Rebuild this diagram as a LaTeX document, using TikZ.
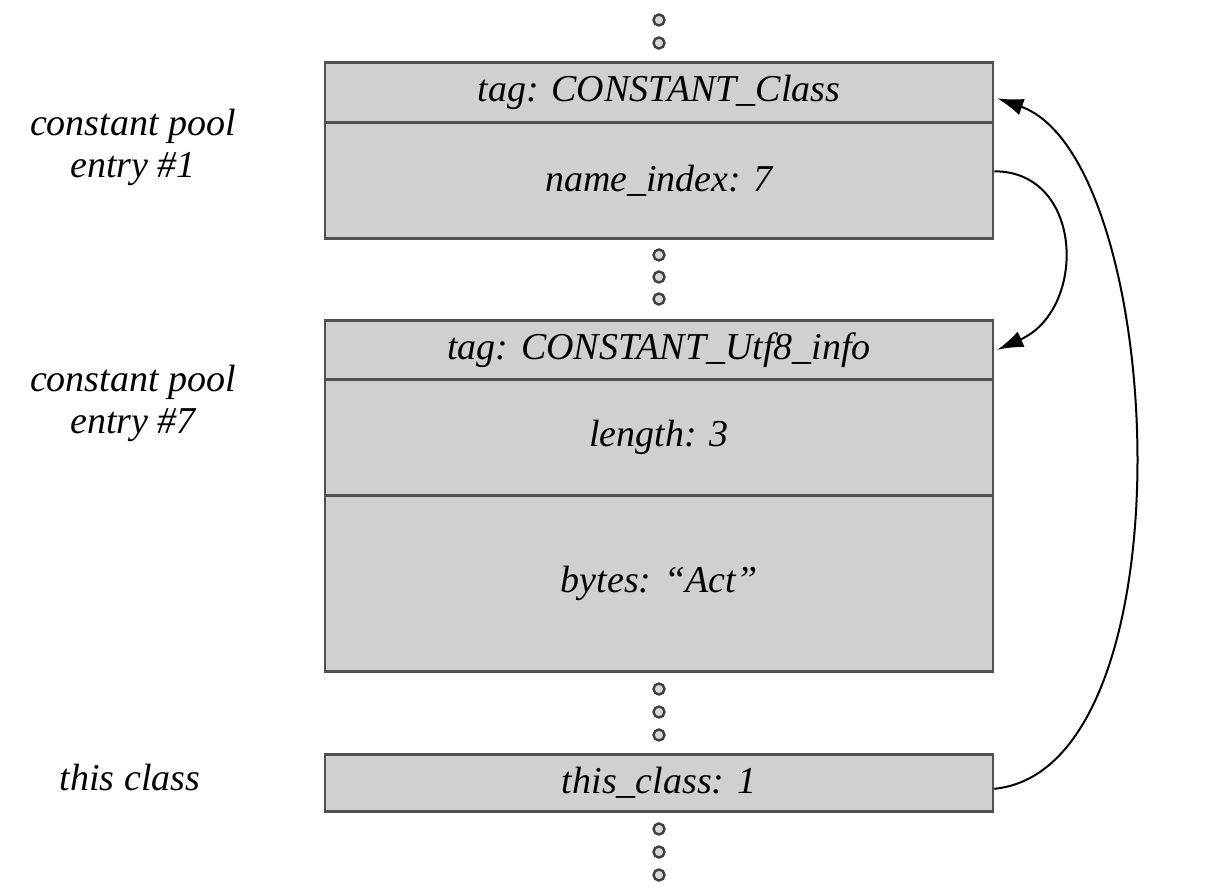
\documentclass[tikz,border=0pt]{standalone}
\usepackage{fontspec}
\setmainfont{Liberation Serif}
\usetikzlibrary{arrows.meta}
\definecolor{boxfill}{HTML}{D0D0D0}
\definecolor{boxline}{HTML}{505050}
\tikzset{
  field/.style={draw=boxline, line width=2.6pt, fill=boxfill, minimum width=668pt, inner sep=0pt, anchor=north, font=\fontsize{38}{42}\selectfont\itshape},
  dotc/.style={circle, draw=black!75, fill=black!15, line width=2.4pt, minimum size=11pt, inner sep=0pt},
  lbl/.style={align=center, font=\fontsize{38}{42}\selectfont\itshape},
  conn/.style={line width=2pt, -{Latex[length=26pt,width=17pt]}}
}
\begin{document}
\begin{tikzpicture}[x=1pt,y=-1pt]
\useasboundingbox (0,0) rectangle (1216,890);
% dots
\node[dotc] (d1) at (659,20) {};
\node[dotc] (d2) at (659,43) {};
\node[dotc] (d3) at (659,255) {};
\node[dotc] (d4) at (659,277) {};
\node[dotc] (d5) at (659,299) {};
\node[dotc] (d6) at (659,689) {};
\node[dotc] (d7) at (659,712) {};
\node[dotc] (d8) at (659,735) {};
\node[dotc] (d9) at (659,829) {};
\node[dotc] (d10) at (659,852) {};
\node[dotc] (d11) at (659,875) {};
% entry 1
\node[field, minimum height=60pt] (c1tag) at (659,61) {tag: CONSTANT\_Class};
\node[field, minimum height=116pt] (c1name) at (659,121) {name\_index: 7};
% entry 7
\node[field, minimum height=59pt] (c7tag) at (659,319) {tag: CONSTANT\_Utf8\_info};
\node[field, minimum height=116pt] (c7len) at (659,378) {length: 3};
\node[field, minimum height=176pt] (c7bytes) at (659,494) {bytes: “Act”};
% this class
\node[field, minimum height=57pt] (tc) at (659,753) {this\_class: 1};
% left labels
\node[lbl] (l1) at (133,147) {constant pool\\entry \#1};
\node[lbl] (l7) at (133,403) {constant pool\\entry \#7};
\node[lbl] (l3) at (130,778) {this class};
% connectors
\draw[conn] ([yshift=9pt]c1name.east) .. controls +(90,0) and +(90,-40) .. ([xshift=3pt]c7tag.east);
\draw[conn] ([yshift=-6pt]tc.east) .. controls +(200,-20) and +(170,60) .. ([xshift=3pt,yshift=-6pt]c1tag.east);
\end{tikzpicture}
\end{document}
